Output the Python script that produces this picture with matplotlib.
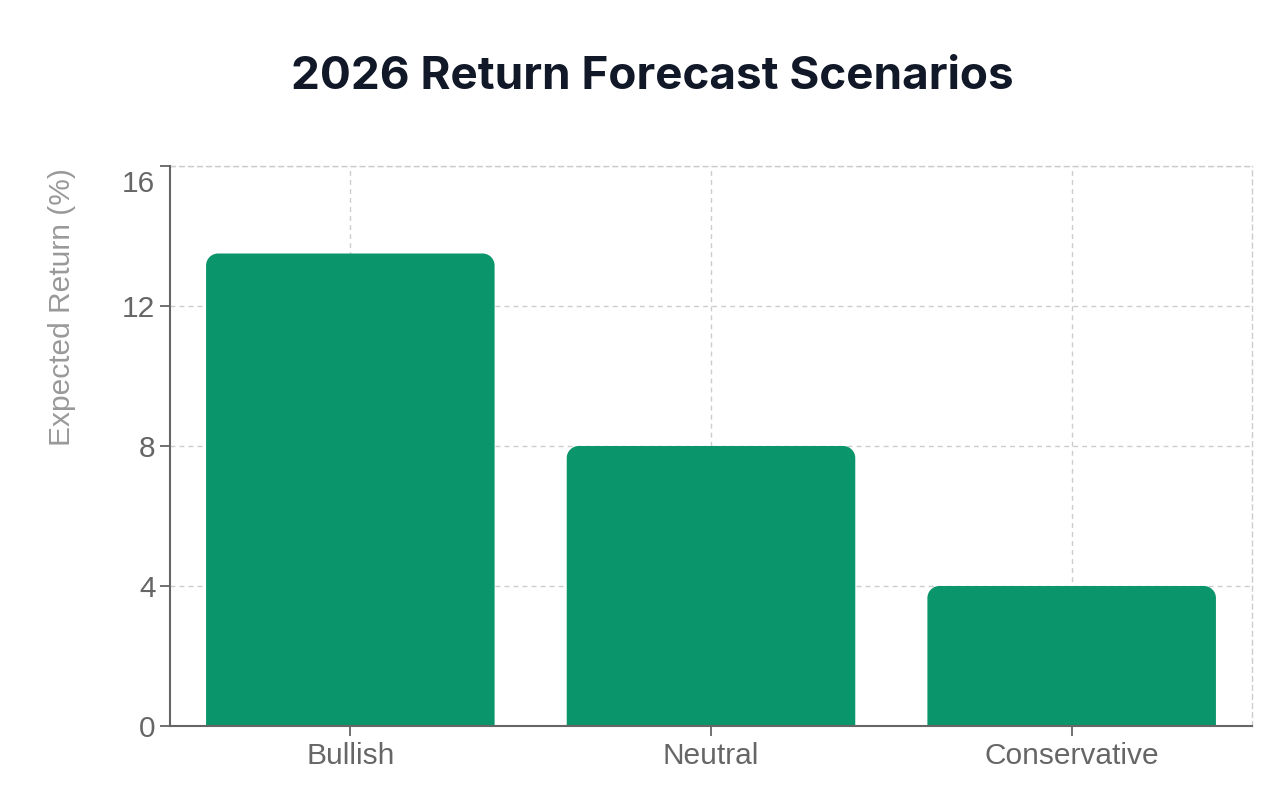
import matplotlib
matplotlib.use("Agg")
import matplotlib.pyplot as plt
from matplotlib.path import Path
from matplotlib.patches import PathPatch
from matplotlib.transforms import ScaledTranslation

categories = ["Bullish", "Neutral", "Conservative"]
returns = [13.5, 8.0, 4.0]
yticks = [0, 4, 8, 12, 16]

plt.rcParams['font.family'] = ['Liberation Sans', 'DejaVu Sans']

W, H, DPI = 1278, 809, 100
fig = plt.figure(figsize=(W / DPI, H / DPI), dpi=DPI)
ax = fig.add_axes([170 / W, (H - 726) / H, (1252 - 170) / W, (726 - 166) / H])

bar_color = "#0a966a"
x = list(range(len(categories)))
bars = ax.bar(x, returns, width=0.8, color=bar_color, zorder=3)
ax.set_xlim(-0.5, len(categories) - 0.5)
ax.set_ylim(0, 16)

# rounded top corners
fig.canvas.draw()
bbox = ax.get_window_extent()
px_x = bbox.width / (ax.get_xlim()[1] - ax.get_xlim()[0])
px_y = bbox.height / (ax.get_ylim()[1] - ax.get_ylim()[0])
r_px = 12
k = 0.5523
for b in bars:
    x0, y0 = b.get_x(), b.get_y()
    w, h = b.get_width(), b.get_height()
    x1, y1 = x0 + w, y0 + h
    rx, ry = r_px / px_x, r_px / px_y
    verts = [
        (x0, y0),
        (x0, y1 - ry),
        (x0, y1 - ry + k * ry), (x0 + rx - k * rx, y1), (x0 + rx, y1),
        (x1 - rx, y1),
        (x1 - rx + k * rx, y1), (x1, y1 - ry + k * ry), (x1, y1 - ry),
        (x1, y0),
        (x0, y0),
    ]
    codes = [Path.MOVETO, Path.LINETO,
             Path.CURVE4, Path.CURVE4, Path.CURVE4,
             Path.LINETO,
             Path.CURVE4, Path.CURVE4, Path.CURVE4,
             Path.LINETO, Path.CLOSEPOLY]
    b.set_visible(False)
    ax.add_patch(PathPatch(Path(verts, codes), facecolor=bar_color,
                           edgecolor="none", zorder=3))

ax.set_xticks(x)
ax.set_xticklabels(categories)
ax.set_yticks(yticks)
ax.tick_params(axis="both", colors="#666666", labelcolor="#666666",
               labelsize=21.5, length=7.5, width=1.3)
ax.tick_params(axis="x", pad=4)
ax.tick_params(axis="y", pad=3)

# top tick label sits inside the axis range
top_lbl = ax.get_yticklabels()[-1]
top_lbl.set_transform(top_lbl.get_transform() +
                      ScaledTranslation(0, -15 / DPI, fig.dpi_scale_trans))

ax.grid(True, color="#cccccc", linestyle=(0, (3.5, 3)), linewidth=1.0, zorder=0)
ax.set_axisbelow(True)
for s in ["left", "bottom"]:
    ax.spines[s].set_color("#666666")
    ax.spines[s].set_linewidth(1.5)
    ax.spines[s].set_zorder(4)
for s in ["top", "right"]:
    ax.spines[s].set_color("#cccccc")
    ax.spines[s].set_linestyle((0, (3.5, 3)))
    ax.spines[s].set_linewidth(1.0)

ax.set_ylabel("Expected Return (%)", fontsize=21.5, color="#999999")
ax.yaxis.set_label_coords((76 - 170) / (1252 - 170), (726 - 307) / (726 - 166))

fig.text(652 / W, 1 - 77 / H, "2026 Return Forecast Scenarios",
         family=["Inter", "DejaVu Sans"], fontweight="bold", fontsize=33,
         color="#111827", ha="center", va="center")

fig.savefig("out.png", dpi=DPI)
